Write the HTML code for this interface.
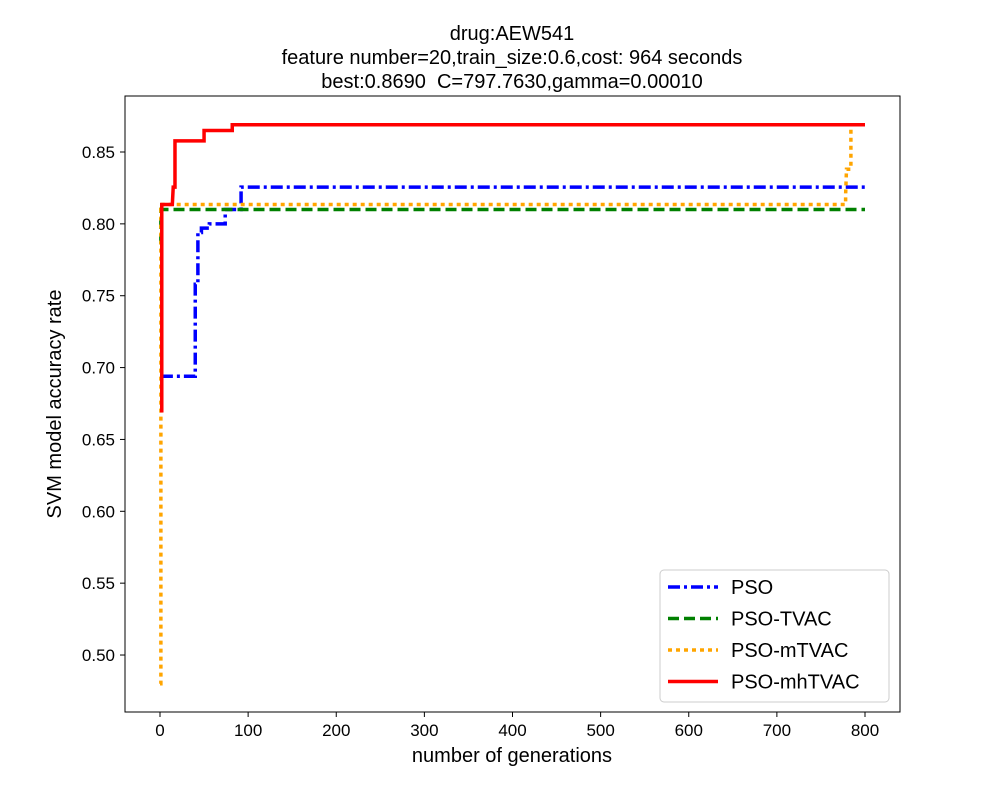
<!DOCTYPE html>
<html><head><meta charset="utf-8"><style>
body{margin:0;background:#fff}
svg text{font-family:"Liberation Sans","DejaVu Sans",sans-serif;fill:#000}
</style></head><body>
<svg id="chart" width="1000" height="800" xmlns="http://www.w3.org/2000/svg">
<rect width="1000" height="800" fill="#fff"/>
<g font-size="20" text-anchor="middle">
<text x="512" y="40">drug:AEW541</text>
<text x="512" y="64">feature number=20,train_size:0.6,cost: 964 seconds</text>
<text x="512" y="88" style="white-space:pre">best:0.8690  C=797.7630,gamma=0.00010</text>
</g>
<g id="marks"></g>
<rect x="125" y="96" width="775" height="616" fill="none" stroke="#000" stroke-width="1"/>
<g id="xticks"></g>
<g id="yticks"></g>
<text x="512" y="762" font-size="20" text-anchor="middle">number of generations</text>
<text transform="translate(61,404) rotate(-90)" font-size="20" text-anchor="middle">SVM model accuracy rate</text>
<g id="legend"></g>
</svg>
<script>
const xTicks=[0,100,200,300,400,500,600,700,800];
const yTicks=[0.50,0.55,0.60,0.65,0.70,0.75,0.80,0.85];
const seriesNames=["PSO","PSO-TVAC","PSO-mTVAC","PSO-mhTVAC"];
// step points: [generation, value]
const psoSteps=[[1,0.694],[40,0.694],[40,0.758],[43,0.758],[43,0.794],[47,0.794],[47,0.797],[56,0.797],[56,0.800],[74,0.800],[74,0.810],[92,0.810],[92,0.8256],[800,0.8256]];
const tvacSteps=[[0,0.786],[1,0.786],[1,0.810],[800,0.810]];
const mtvacSteps=[[0,0.48],[1,0.48],[1,0.810],[3,0.810],[3,0.8135],[778,0.8135],[778,0.820],[779,0.838],[784,0.838],[784,0.869],[800,0.869]];
const mhtvacSteps=[[0,0.670],[2,0.670],[2,0.8135],[14,0.8135],[15,0.8256],[17,0.8256],[17,0.8577],[50,0.8577],[50,0.865],[82,0.865],[82,0.869],[800,0.869]];
const X=g=>160+g*0.88125;
const Y=v=>152+(0.85-v)*1437.2;
const NS="http://www.w3.org/2000/svg";
function mk(t,a,p){const e=document.createElementNS(NS,t);for(const k in a)e.setAttribute(k,a[k]);p.appendChild(e);return e;}
const xg=document.getElementById('xticks');
xTicks.forEach(t=>{
 const l=mk('line',{x1:X(t),x2:X(t),y1:712,y2:717,stroke:'#000'},xg);
 
 
 const tx=mk('text',{x:X(t),y:736,'font-size':17,'text-anchor':'middle'},xg);tx.textContent=t;
 
 
});
const yg=document.getElementById('yticks');
yTicks.forEach(t=>{
 const l=mk('line',{x1:120,x2:125,y1:Y(t),y2:Y(t),stroke:'#000'},yg);
 
 
 const tx=mk('text',{x:115,y:Y(t)+6,'font-size':17,'text-anchor':'end'},yg);tx.textContent=t.toFixed(2);
 
 
});
const styles=[{c:'#0000ff',d:'12,4,3,4'},{c:'#008000',d:'11,5'},{c:'#ffa500',d:'4,4'},{c:'#ff0000',d:''}];
const all=[psoSteps,tvacSteps,mtvacSteps,mhtvacSteps];
const mg=document.getElementById('marks');
all.forEach((s,i)=>{
 const p=mk('polyline',{points:s.map(q=>X(q[0])+','+Y(q[1])).join(' '),fill:'none',stroke:styles[i].c,'stroke-width':3.5,'stroke-dasharray':styles[i].d},mg);
 
 
});
const lg=document.getElementById('legend');
mk('rect',{x:660,y:570,width:229,height:132,rx:4,fill:'#fff',stroke:'#ccc'},lg);
seriesNames.forEach((n,i)=>{
 const y=587+i*31.5;
 const l=mk('line',{x1:668,x2:718,y1:y,y2:y,stroke:styles[i].c,'stroke-width':3.5,'stroke-dasharray':styles[i].d},lg);
 
 
 const t=mk('text',{x:731,y:y+7,'font-size':20},lg);t.textContent=n;
 
 
});
</script>
</body></html>
